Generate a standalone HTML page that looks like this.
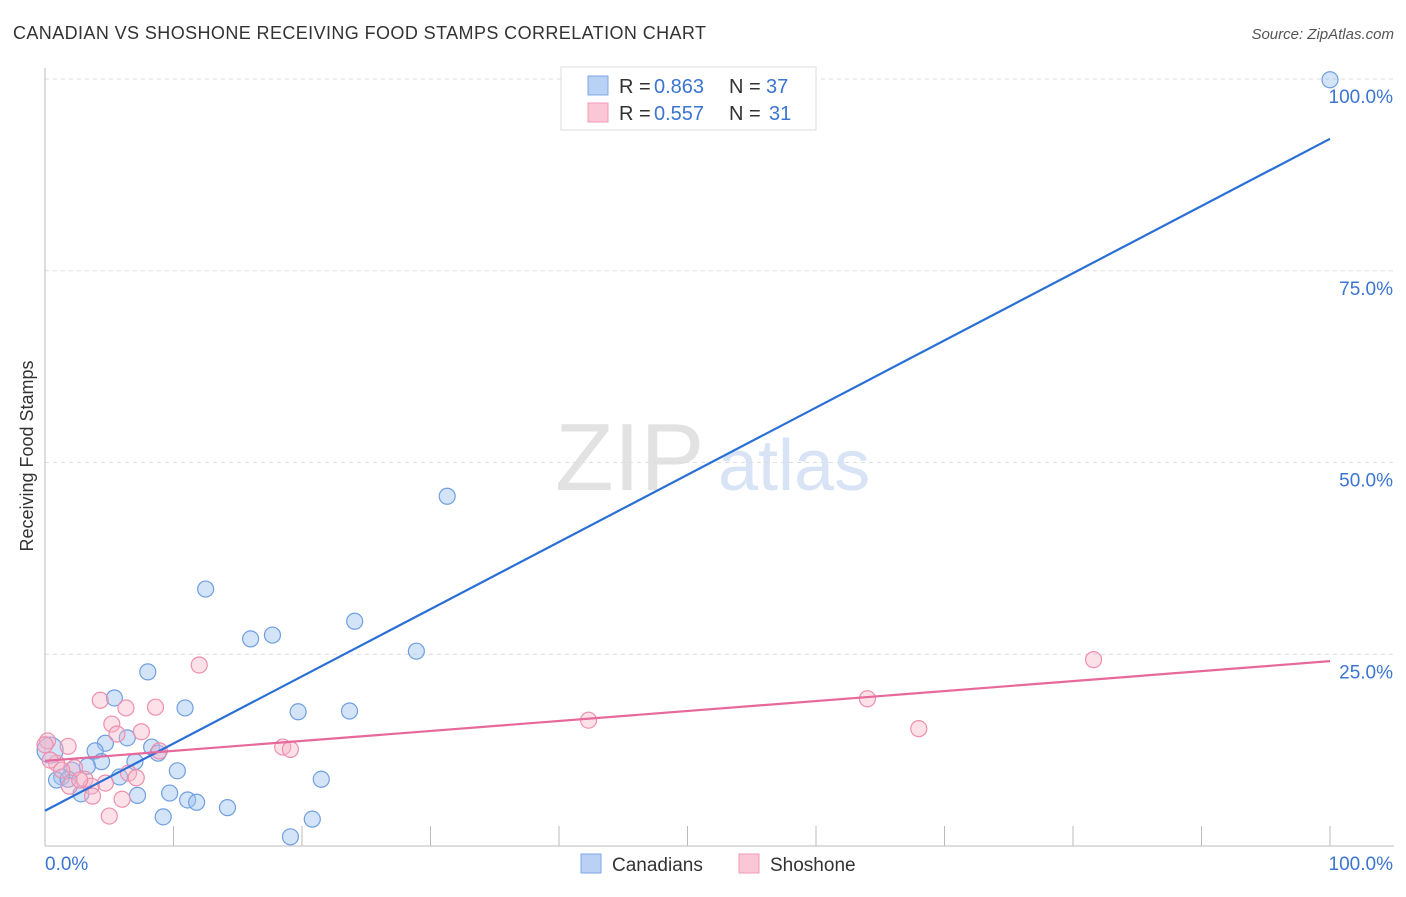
<!DOCTYPE html>
<html><head><meta charset="utf-8"><style>
body{margin:0;background:#fff;font-family:"Liberation Sans",sans-serif}
svg text{font-family:"Liberation Sans",sans-serif}
</style></head><body>
<svg id="c" width="1406" height="892" xmlns="http://www.w3.org/2000/svg">
<text x="13" y="39" font-size="18" fill="#333" textLength="693">CANADIAN VS SHOSHONE RECEIVING FOOD STAMPS CORRELATION CHART</text>
<text x="1394" y="39" font-size="15" fill="#555" font-style="italic" text-anchor="end">Source: ZipAtlas.com</text>
<text transform="translate(33,456) rotate(-90)" font-size="18" fill="#333" text-anchor="middle">Receiving Food Stamps</text>
<text x="555" y="490" font-size="96" fill="#e2e2e2" font-family="Liberation Serif">ZIP</text>
<text x="718" y="490" font-size="72" fill="#d8e4f5">atlas</text>
<g id="grid"></g><g id="pts"></g><g id="lines"></g>
<g>
<rect x="561" y="67" width="255" height="63" fill="#fff" stroke="#ddd"/>
<rect x="588" y="76" width="20" height="19" fill="#b8d1f5" stroke="#7fa8e6"/>
<rect x="588" y="103" width="20" height="19" fill="#fbc6d6" stroke="#f09ab5"/>
<text x="619" y="93" font-size="20" fill="#333">R =</text><text x="654" y="93" font-size="20" fill="#3b74d1">0.863</text>
<text x="729" y="93" font-size="20" fill="#333">N =</text><text x="766" y="93" font-size="20" fill="#3b74d1">37</text>
<text x="619" y="120" font-size="20" fill="#333">R =</text><text x="654" y="120" font-size="20" fill="#3b74d1">0.557</text>
<text x="729" y="120" font-size="20" fill="#333">N =</text><text x="769" y="120" font-size="20" fill="#3b74d1">31</text>
</g>
<g>
<rect x="581" y="854" width="20" height="19" fill="#b8d1f5" stroke="#7fa8e6"/>
<text x="612" y="871" font-size="19" fill="#333">Canadians</text>
<rect x="739" y="854" width="20" height="19" fill="#fbc6d6" stroke="#f09ab5"/>
<text x="770" y="871" font-size="19" fill="#333">Shoshone</text>
</g>
</svg>
<script>
const yTicks=[25,50,75,100];
const yTickLabels=["25.0%","50.0%","75.0%","100.0%"];
const blueX=[100,31.3,12.5,24.1,17.7,16.0,28.9,8.0,5.4,10.9,19.7,23.7,6.4,4.7,8.3,3.9,8.8,4.4,7.0,3.3,2.1,10.3,5.8,1.3,0.9,21.5,1.8,7.2,9.7,2.8,11.1,11.8,14.2,9.2,20.8,19.1,0.4];
const blueY=[99.9,45.6,33.5,29.3,27.5,27.0,25.4,22.7,19.3,18.0,17.5,17.6,14.1,13.4,12.9,12.4,12.1,11.0,11.0,10.4,9.9,9.8,9.0,9.0,8.6,8.7,8.7,6.6,6.9,6.8,6.0,5.7,5.0,3.8,3.5,1.2,12.5];
const pinkX=[12.0,81.6,4.3,64.0,42.3,68.0,8.6,6.3,5.2,7.5,5.6,0.2,1.8,18.5,19.1,8.9,0.9,2.3,6.5,3.1,4.7,3.6,7.1,1.9,3.7,6.0,5.0,0.4,2.7,0,1.3];
const pinkY=[23.6,24.3,19.0,19.2,16.4,15.3,18.1,18.0,15.9,14.9,14.6,13.7,13.0,12.9,12.6,12.4,10.8,10.2,9.5,8.7,8.2,7.8,8.9,7.8,6.5,6.1,3.9,11.2,8.6,13.2,9.9];
const blueLine=[4.6,92.2];
const pinkLine=[11.1,24.1];
const X=v=>45+v*12.85, Y=v=>846-v*7.67;
const NS="http://www.w3.org/2000/svg";
function mk(t,a,p){const e=document.createElementNS(NS,t);for(const k in a)e.setAttribute(k,a[k]);p.appendChild(e);return e;}
const g=document.getElementById('grid');
yTicks.forEach((t,i)=>{
 const l=mk('line',{x1:45,x2:1394,y1:Y(t),y2:Y(t),stroke:'#ddd','stroke-dasharray':'4,4'},g);
 
 
 const tx=mk('text',{x:1393,y:Y(t)+24,'font-size':19,fill:'#3b74d1','text-anchor':'end'},g);
 tx.textContent=yTickLabels[i];
 
 
});
mk('line',{x1:45,x2:45,y1:68,y2:846,stroke:'#bbb'},g);
mk('line',{x1:45,x2:1394,y1:846,y2:846,stroke:'#bbb'},g);
for(let i=0;i<=10;i++){const l=mk('line',{x1:X(i*10),x2:X(i*10),y1:826,y2:846,stroke:'#bbb'},g);
 
 }
let t0=mk('text',{x:45,y:870,'font-size':19,fill:'#3b74d1'},g);t0.textContent='0.0%';


let t1=mk('text',{x:1393,y:870,'font-size':19,fill:'#3b74d1','text-anchor':'end'},g);t1.textContent='100.0%';


const p=document.getElementById('pts');
blueX.forEach((x,i)=>{const c=mk('circle',{cx:X(x),cy:Y(blueY[i]),r:i==blueX.length-1?13:8,fill:'rgba(160,195,240,0.45)',stroke:'#6f9fe0','stroke-width':1.2},p);
 
 });
pinkX.forEach((x,i)=>{const c=mk('circle',{cx:X(x),cy:Y(pinkY[i]),r:8,fill:'rgba(248,180,200,0.4)',stroke:'#ee8fae','stroke-width':1.2},p);
 
 });
const L=document.getElementById('lines');
const bl=mk('line',{x1:X(0),y1:Y(blueLine[0]),x2:X(100),y2:Y(blueLine[1]),stroke:'#2a6fd6','stroke-width':2.2},L);


const pl=mk('line',{x1:X(0),y1:Y(pinkLine[0]),x2:X(100),y2:Y(pinkLine[1]),stroke:'#e7689a','stroke-width':2.2},L);


</script>
</body></html>
